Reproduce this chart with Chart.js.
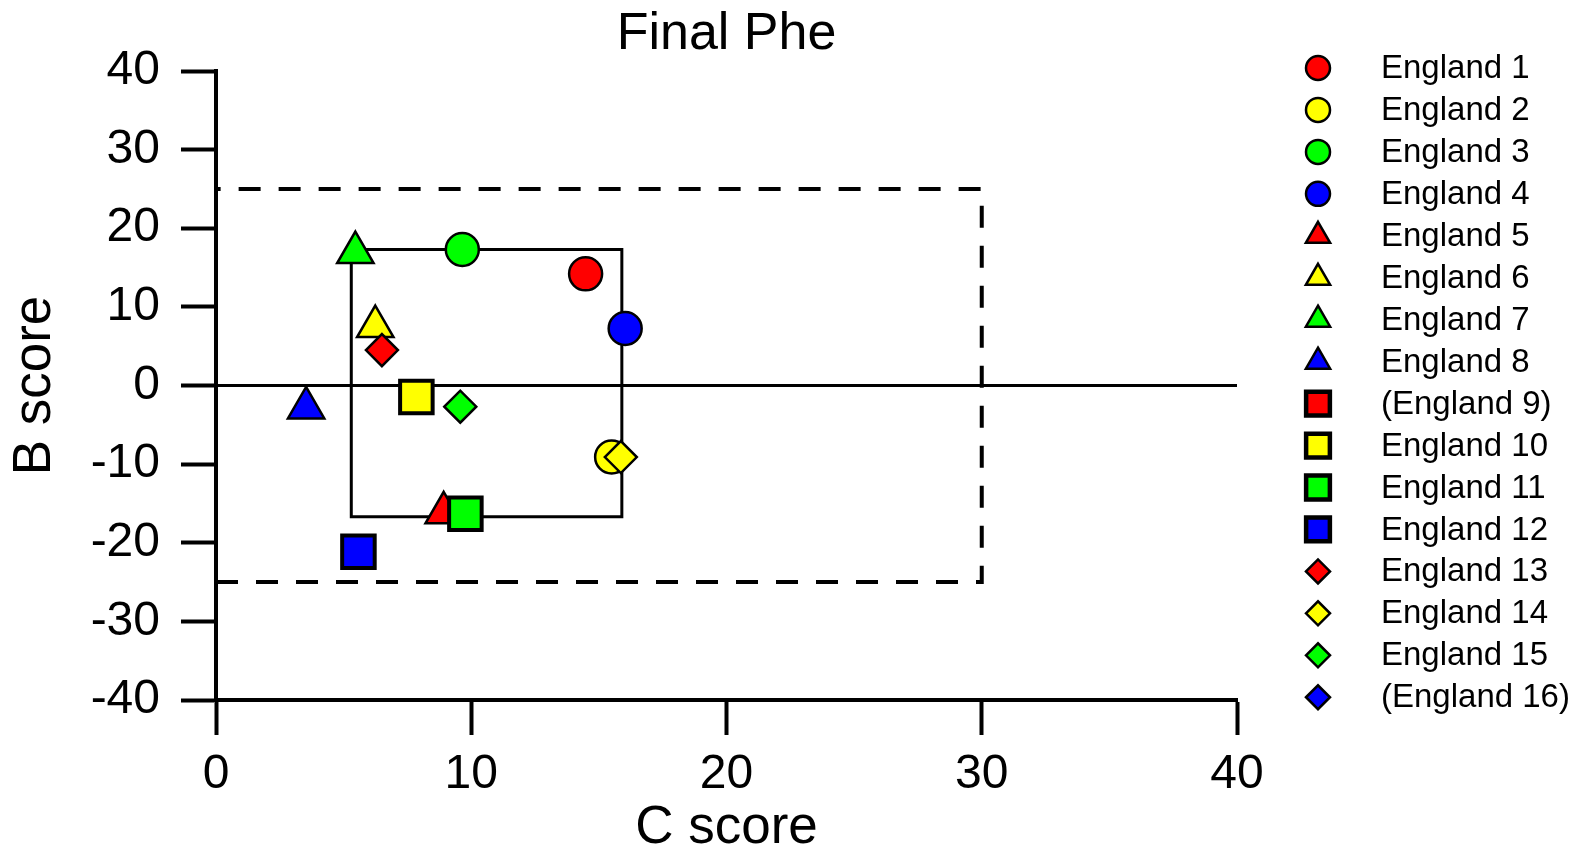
<!DOCTYPE html>
<html lang="en">

<head>
  <meta charset="utf-8">
  <title>Final Phe</title>
  <style>
    html, body { margin: 0; padding: 0; background: #fff; }
    #wrap { position: relative; width: 1581px; height: 850px; }
  </style>
</head>

<body>
  <div id="wrap">
    <canvas id="plot"></canvas>
  </div>

  <script src="https://cdn.jsdelivr.net/npm/chart.js"></script>
  <script>
    // one entry per sample; null = no measurement
    const names = ['England 1', 'England 2', 'England 3', 'England 4',
      'England 5', 'England 6', 'England 7', 'England 8',
      '(England 9)', 'England 10', 'England 11', 'England 12',
      'England 13', 'England 14', 'England 15', '(England 16)'];
    const cScore = [14.48, 15.5, 9.65, 16.03, 8.92, 6.24, 5.46, 3.53,
      null, 7.85, 9.77, 5.58, 6.5, 15.86, 9.57, null];
    const bScore = [14.2, -9.1, 17.3, 7.25, -16.2, 7.5, 16.9, -2.85,
      null, -1.45, -16.3, -21.15, 4.5, -9.1, -2.7, null];

    // symbol per sample
    const fills = ['#ff0000', '#ffff00', '#00ff00', '#0000ff',
      '#ff0000', '#ffff00', '#00ff00', '#0000ff',
      '#ff0000', '#ffff00', '#00ff00', '#0000ff',
      '#ff0000', '#ffff00', '#00ff00', '#0000ff'];
    const shapes = ['circle', 'circle', 'circle', 'circle',
      'triangle', 'triangle', 'triangle', 'triangle',
      'rect', 'rect', 'rect', 'rect',
      'rectRot', 'rectRot', 'rectRot', 'rectRot'];

    // reference boxes and the zero line
    const outerC = [0, 30, 30, 0];
    const outerB = [-25, -25, 25, 25];
    const innerC = [5.3, 15.9, 15.9, 5.3, 5.3];
    const innerB = [17.3, 17.3, -16.7, -16.7, 17.3];
    const zeroC = [0, 40];
    const zeroB = [0, 0];

    const xTicks = [0, 10, 20, 30, 40];
    const yTicks = [-40, -30, -20, -10, 0, 10, 20, 30, 40];

    const plotRadius = { circle: 16.5, triangle: 21, rect: 23, rectRot: 16 };
    const legendRadius = { circle: 12, triangle: 14, rect: 16.8, rectRot: 12 };
    const edge = { circle: 2.5, triangle: 2.5, rect: 4, rectRot: 2.5 };

    const FONT = '"Liberation Sans", Arial, sans-serif';
    Chart.defaults.font.family = FONT;
    Chart.defaults.color = '#000';

    function pts(xs, ys) {
      return xs.map((x, i) => ({ x: x, y: ys[i] }));
    }

    function lineSet(xs, ys, width, dash) {
      return {
        data: pts(xs, ys),
        showLine: true,
        borderColor: '#000',
        borderWidth: width,
        borderDash: dash || [],
        pointRadius: 0,
        fill: false,
        order: 1
      };
    }

    const datasets = [
      lineSet(zeroC, zeroB, 3),
      lineSet(outerC, outerB, 4, [22, 18]),
      lineSet(innerC, innerB, 3)
    ];

    names.forEach((name, i) => {
      datasets.push({
        label: name,
        data: cScore[i] === null ? [] : [{ x: cScore[i], y: bScore[i] }],
        pointStyle: shapes[i],
        pointRadius: plotRadius[shapes[i]],
        backgroundColor: fills[i],
        borderColor: '#000',
        borderWidth: edge[shapes[i]],
        order: -i
      });
    });

    // legend at the right, drawn by hand so the gap to the text can be set
    const sideLegend = {
      id: 'sideLegend',
      afterDraw(chart) {
        const ctx = chart.ctx;
        ctx.save();
        ctx.font = '33px ' + FONT;
        ctx.textBaseline = 'middle';
        ctx.textAlign = 'left';
        names.forEach((name, i) => {
          const y = 68 + i * 41.95;
          ctx.fillStyle = fills[i];
          ctx.strokeStyle = '#000';
          ctx.lineWidth = shapes[i] === 'rect' ? 4.5 : 2.5;
          Chart.helpers.drawPoint(ctx, {
            pointStyle: shapes[i],
            radius: legendRadius[shapes[i]],
            rotation: 0,
            borderWidth: ctx.lineWidth
          }, 1318, y);
          ctx.fillStyle = '#000';
          ctx.fillText(name, 1381, y + 1);
        });
        ctx.restore();
      }
    };

    const axisLook = {
      border: { display: true, color: '#000', width: 4 },
      grid: {
        display: true,
        drawOnChartArea: false,
        drawTicks: true,
        tickLength: 35,
        tickColor: '#000',
        tickWidth: 4,
        color: '#000'
      }
    };

    new Chart(document.getElementById('plot'), {
      type: 'scatter',
      data: { datasets: datasets },
      options: {
        responsive: true,
        maintainAspectRatio: false,
        animation: false,
        layout: { padding: { left: 0, top: 0, right: 344, bottom: 0 } },
        plugins: {
          legend: { display: false },
          tooltip: { enabled: false },
          title: {
            display: true,
            text: 'Final Phe',
            fullSize: false,
            color: '#000',
            font: { size: 52, weight: 'normal', lineHeight: 1 },
            padding: { top: 9, bottom: 10 }
          }
        },
        scales: {
          x: {
            type: 'linear',
            min: 0,
            max: 40,
            afterBuildTicks: s => { s.ticks = xTicks.map(v => ({ value: v })); },
            afterFit: s => { s.height = 150; },
            ticks: { font: { size: 48 }, padding: 11, color: '#000' },
            title: {
              display: true,
              text: 'C score',
              font: { size: 53, lineHeight: 0.8 },
              padding: { top: 0, bottom: 0 },
              color: '#000'
            },
            ...axisLook
          },
          y: {
            type: 'linear',
            min: -40,
            max: 40,
            afterBuildTicks: s => { s.ticks = yTicks.map(v => ({ value: v })); },
            afterFit: s => { s.width = 216; },
            ticks: { font: { size: 48 }, padding: 21, color: '#000' },
            title: {
              display: true,
              text: 'B score',
              font: { size: 53, lineHeight: 1 },
              padding: { top: 9, bottom: 0 },
              color: '#000'
            },
            ...axisLook
          }
        }
      },
      plugins: [sideLegend]
    });
  </script>
</body>

</html>
